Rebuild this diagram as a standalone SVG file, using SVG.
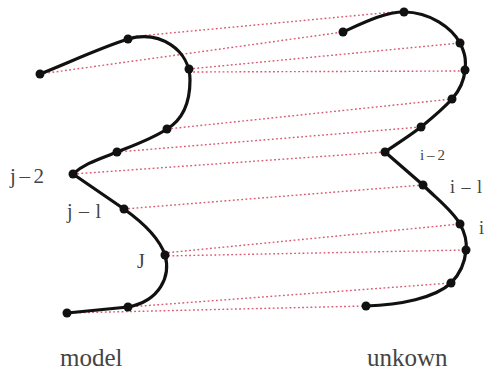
<svg xmlns="http://www.w3.org/2000/svg" width="486" height="373" viewBox="0 0 486 373">
  <style>
    .match { stroke: #d95a70; stroke-width: 1.4; stroke-dasharray: 1.8 2.4; fill: none; }
    .curve { stroke: #111; stroke-width: 3.2; fill: none; stroke-linejoin: round; stroke-linecap: round; }
    .pt { fill: #111; }
    .lbl { font-family: "Liberation Serif", "DejaVu Serif", serif; fill: #444; }
  </style>
  <rect width="486" height="373" fill="#fff"/>

  <!-- correspondence lines between model and unknown sample points -->
  <g id="connectors">
    <line class="match" x1="128" y1="37" x2="404" y2="11"/>
    <line class="match" x1="40" y1="74" x2="343" y2="32"/>
    <line class="match" x1="189" y1="69" x2="460" y2="43"/>
    <line class="match" x1="189" y1="72" x2="465" y2="71"/>
    <line class="match" x1="167" y1="129" x2="452" y2="99"/>
    <line class="match" x1="117" y1="152" x2="421" y2="127"/>
    <line class="match" x1="73" y1="174" x2="385" y2="152"/>
    <line class="match" x1="124" y1="209" x2="423" y2="185"/>
    <line class="match" x1="164" y1="253" x2="460" y2="224"/>
    <line class="match" x1="164" y1="256" x2="466" y2="250"/>
    <line class="match" x1="128" y1="307" x2="451" y2="283"/>
    <line class="match" x1="67" y1="313" x2="366" y2="306"/>
  </g>

  <!-- model contour -->
  <g id="model">
    <path class="curve" d="M40,74 C70,62 100,48 128,39 C160,30 190,50 190,80 C190,105 182,120 167,129 C152,139 132,146 117,152 C100,159 85,163 73,174 L124,209 C145,224 160,240 165,255 C171,276 160,301 128,307 L67,313"/>
    <circle class="pt" cx="40" cy="74" r="4.5"/>
    <circle class="pt" cx="128" cy="39" r="4.5"/>
    <circle class="pt" cx="189" cy="69" r="4.5"/>
    <circle class="pt" cx="167" cy="129" r="4.5"/>
    <circle class="pt" cx="117" cy="152" r="4.5"/>
    <circle class="pt" cx="73" cy="174" r="4.5"/>
    <circle class="pt" cx="124" cy="209" r="4.5"/>
    <circle class="pt" cx="165" cy="255" r="4.5"/>
    <circle class="pt" cx="128" cy="307" r="4.5"/>
    <circle class="pt" cx="67" cy="313" r="4.5"/>
    <text class="lbl" x="10" y="183" font-size="21" textLength="34" lengthAdjust="spacing">j–2</text>
    <text class="lbl" x="67" y="218" font-size="20" textLength="34" lengthAdjust="spacing">j–l</text>
    <text class="lbl" x="137" y="268" font-size="20">J</text>
    <text class="lbl" x="60" y="366" font-size="25">model</text>
  </g>

  <!-- unknown contour -->
  <g id="unknown">
    <path class="curve" d="M343,32 C365,22 385,12 404,12 C430,12 452,28 460,43 C466,55 466,62 465,70 C464,82 460,90 452,99 C442,110 432,118 421,127 C408,137 395,145 385,152 L423,185 C438,200 452,210 460,224 C465,233 467,242 466,250 C465,262 460,274 451,283 C435,298 400,305 366,306"/>
    <circle class="pt" cx="343" cy="32" r="4.5"/>
    <circle class="pt" cx="404" cy="12" r="4.5"/>
    <circle class="pt" cx="460" cy="43" r="4.5"/>
    <circle class="pt" cx="465" cy="70" r="4.5"/>
    <circle class="pt" cx="452" cy="99" r="4.5"/>
    <circle class="pt" cx="421" cy="127" r="4.5"/>
    <circle class="pt" cx="385" cy="152" r="4.5"/>
    <circle class="pt" cx="423" cy="185" r="4.5"/>
    <circle class="pt" cx="460" cy="224" r="4.5"/>
    <circle class="pt" cx="466" cy="250" r="4.5"/>
    <circle class="pt" cx="451" cy="283" r="4.5"/>
    <circle class="pt" cx="366" cy="306" r="4.5"/>
    <text class="lbl" x="420" y="160" font-size="15" textLength="25" lengthAdjust="spacing">i–2</text>
    <text class="lbl" x="450" y="193" font-size="18" textLength="32" lengthAdjust="spacing">i–l</text>
    <text class="lbl" x="479" y="234" font-size="18">i</text>
    <text class="lbl" x="367" y="366" font-size="25">unkown</text>
  </g>
</svg>
